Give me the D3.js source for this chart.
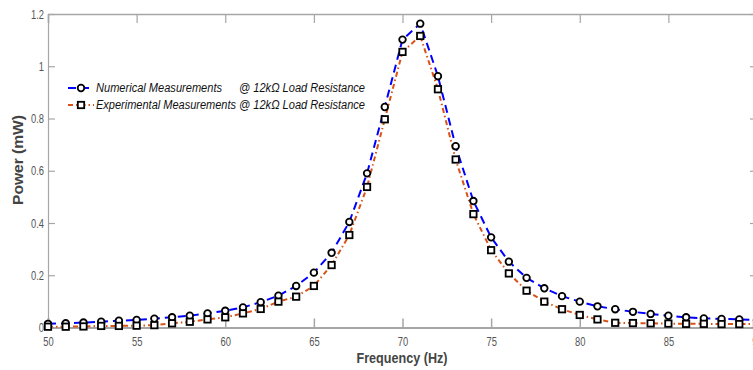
<!DOCTYPE html>
<html>
<head>
<meta charset="utf-8">
<script src="https://cdn.jsdelivr.net/npm/d3@7/dist/d3.min.js"></script>
<style>
  html, body { margin: 0; padding: 0; background: #fff; overflow: hidden; }
  svg { display: block; }
</style>
</head>
<body>
<svg id="chart" width="753" height="370"></svg>
<script>
// ---- data ----
const frequency = [50,51,52,53,54,55,56,57,58,59,60,61,62,63,64,65,66,67,68,69,70,71,72,73,74,75,76,77,78,79,80,81,82,83,84,85,86,87,88,89,90];
const numerical = [0.014,0.016,0.019,0.022,0.026,0.029,0.034,0.039,0.045,0.054,0.064,0.077,0.097,0.122,0.159,0.210,0.286,0.404,0.590,0.844,1.102,1.163,0.962,0.694,0.484,0.345,0.252,0.190,0.150,0.120,0.099,0.081,0.070,0.060,0.052,0.045,0.039,0.035,0.033,0.031,0.029];
const experimental = [0.003,0.003,0.004,0.006,0.006,0.007,0.009,0.016,0.022,0.031,0.039,0.054,0.071,0.099,0.118,0.159,0.239,0.354,0.538,0.797,1.055,1.116,0.912,0.643,0.434,0.296,0.207,0.141,0.099,0.070,0.048,0.031,0.018,0.017,0.016,0.015,0.014,0.014,0.013,0.013,0.013];
const xTicks = [50,55,60,65,70,75,80,85,90];
const yTicks = [0,0.2,0.4,0.6,0.8,1,1.2];
const legendNames = ["Numerical Measurements", "Experimental Measurements"];
const legendSuffix = "@ 12k\u03A9 Load Resistance";
const xTitle = "Frequency (Hz)";
const yTitle = "Power (mW)";

// ---- layout ----
const svg = d3.select("#chart");
const x = d3.scaleLinear().domain([50, 90]).range([48, 757]);
const y = d3.scaleLinear().domain([0, 1.2]).range([327.5, 14]);
const font = "Arial, 'Liberation Sans', sans-serif";
const axisGrey = "#a6a6a6";
const labelGrey = "#555";

// axes
const gx = svg.append("g").attr("transform", `translate(0,${y(0)})`)
  .call(d3.axisBottom(x).tickValues(xTicks).tickSize(-9).tickPadding(9).tickFormat(d3.format("d")));
const gxTop = svg.append("g").attr("transform", `translate(0,${y(1.2)})`)
  .call(d3.axisTop(x).tickValues(xTicks).tickSize(-9).tickFormat(""));
const gy = svg.append("g").attr("transform", `translate(${x(50)},0)`)
  .call(d3.axisLeft(y).tickValues(yTicks).tickSize(-7).tickPadding(4).tickFormat(d => String(d)));
const gyR = svg.append("g").attr("transform", `translate(${x(90)},0)`)
  .call(d3.axisRight(y).tickValues(yTicks).tickSize(-7).tickFormat(""));

[gx, gxTop, gy, gyR].forEach(g => {
  g.selectAll("path.domain").attr("stroke", axisGrey);
  g.selectAll(".tick line").attr("stroke", axisGrey).attr("stroke-width", 1.2);
  g.selectAll(".tick text").attr("fill", labelGrey)
    .style("font-family", font).style("font-size", "13px")
    .attr("lengthAdjust", "spacingAndGlyphs")
    .attr("textLength", function() {
      const t = this.textContent;
      let w = 0;
      for (const c of t) w += (c === ".") ? 2.6 : 5.2;
      return w;
    });
});
gx.select("path.domain").attr("stroke-width", 2.2);
gxTop.select("path.domain").attr("stroke-width", 1.5);
gy.select("path.domain").attr("stroke-width", 1.2);
gx.selectAll(".tick line").attr("stroke-width", 1.5);

// titles
svg.append("text").attr("x", 402).attr("y", 363).attr("text-anchor", "middle")
  .attr("textLength", 91).attr("lengthAdjust", "spacingAndGlyphs")
  .style("font-family", font).style("font-weight", "bold")
  .style("font-size", "15px").attr("fill", "#444").text(xTitle);
svg.append("text").attr("transform", "translate(23,160) rotate(-90)").attr("text-anchor", "middle")
  .attr("textLength", 90).attr("lengthAdjust", "spacingAndGlyphs")
  .style("font-family", font).style("font-weight", "bold")
  .style("font-size", "15px").attr("fill", "#444").text(yTitle);

// lines
const line = d3.line().x((d, i) => x(frequency[i])).y(d => y(d));
const colors = ["#0000ff", "#d95319"];
const dashes = ["8,5", "5,3,1.5,3"];
[numerical, experimental].forEach((s, k) => {
  svg.append("path").datum(s).attr("d", line).attr("fill", "none")
    .attr("stroke", colors[k]).attr("stroke-width", 2).attr("stroke-dasharray", dashes[k]);
});

// markers
svg.append("g").selectAll("circle").data(numerical).join("circle")
  .attr("cx", (d, i) => x(frequency[i])).attr("cy", d => y(d)).attr("r", 3.3)
  .attr("fill", "#fff").attr("stroke", "#000").attr("stroke-width", 1.8);
svg.append("g").selectAll("rect").data(experimental).join("rect")
  .attr("x", (d, i) => x(frequency[i]) - 3.2).attr("y", d => y(d) - 3.2)
  .attr("width", 6.4).attr("height", 6.4)
  .attr("fill", "#fff").attr("stroke", "#000").attr("stroke-width", 1.8);

// legend
const legRows = [88, 105];
const nameLens = [126, 140];
legRows.forEach((ly, k) => {
  svg.append("line").attr("x1", 68).attr("x2", 94).attr("y1", ly).attr("y2", ly)
    .attr("stroke", colors[k]).attr("stroke-width", 2).attr("stroke-dasharray", dashes[k]);
  if (k === 0) {
    svg.append("circle").attr("cx", 81).attr("cy", ly).attr("r", 3.3)
      .attr("fill", "#fff").attr("stroke", "#000").attr("stroke-width", 1.8);
  } else {
    svg.append("rect").attr("x", 81 - 3.2).attr("y", ly - 3.2).attr("width", 6.4).attr("height", 6.4)
      .attr("fill", "#fff").attr("stroke", "#000").attr("stroke-width", 1.8);
  }
  svg.append("text").attr("x", 96).attr("y", ly + 4)
    .attr("textLength", nameLens[k]).attr("lengthAdjust", "spacingAndGlyphs")
    .style("font-family", font).style("font-style", "italic")
    .style("font-size", "12px").attr("fill", "#111").text(legendNames[k]);
  svg.append("text").attr("x", 239).attr("y", ly + 4)
    .attr("textLength", 126).attr("lengthAdjust", "spacingAndGlyphs")
    .style("font-family", font).style("font-style", "italic")
    .style("font-size", "12px").attr("fill", "#111").text(legendSuffix);
});
</script>
</body>
</html>
